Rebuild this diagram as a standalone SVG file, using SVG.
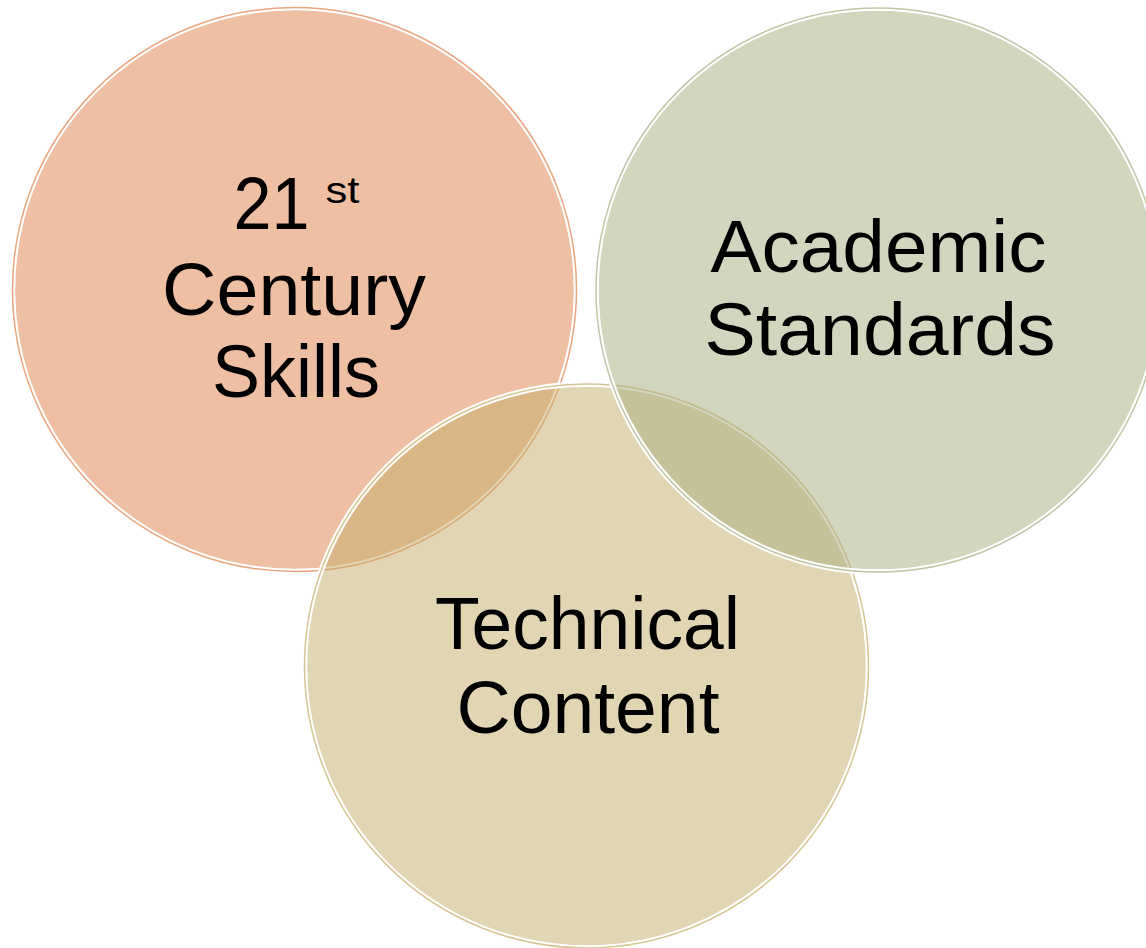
<svg xmlns="http://www.w3.org/2000/svg" width="1146" height="948" viewBox="0 0 1146 948">
<style>
.fill{stroke:none;fill-opacity:0.5}
.halo{fill:none;stroke:#ffffff;stroke-width:5.5}
.rim{fill:none;stroke-width:1.5;stroke-opacity:0.7}
.lbl{font-family:"Liberation Sans",Arial,sans-serif;font-size:75px;fill:#000000;text-anchor:middle}
.sup{font-size:36px}
</style>
<rect x="0" y="0" width="1146" height="948" fill="#ffffff"/>
<g id="node-21st-century-skills">
<circle class="fill" cx="294.5" cy="289.5" r="279.5" fill="#DF7F47"/>
<circle class="halo" cx="294.5" cy="289.5" r="282"/>
<circle class="rim" cx="294.5" cy="289.5" r="282" stroke="#DF7F47"/>
<text class="lbl"><tspan x="271.5" y="229" textLength="76" lengthAdjust="spacingAndGlyphs">21</tspan><tspan class="sup" x="342.5" y="203" textLength="34" lengthAdjust="spacingAndGlyphs">st</tspan></text>
<text class="lbl" x="294" y="315" textLength="264" lengthAdjust="spacingAndGlyphs">Century</text>
<text class="lbl" x="296" y="397" textLength="168" lengthAdjust="spacingAndGlyphs">Skills</text>
</g>
<g id="node-technical-content">
<circle class="fill" cx="586.5" cy="666" r="279.5" fill="#C5AB67"/>
<circle class="halo" cx="586.5" cy="666" r="282"/>
<circle class="rim" cx="586.5" cy="666" r="282" stroke="#C5AB67"/>
<text class="lbl" x="587.5" y="649" textLength="305" lengthAdjust="spacingAndGlyphs">Technical</text>
<text class="lbl" x="588" y="733" textLength="263" lengthAdjust="spacingAndGlyphs">Content</text>
</g>
<g id="node-academic-standards">
<circle class="fill" cx="878" cy="290" r="279.5" fill="#A7AD80"/>
<circle class="halo" cx="878" cy="290" r="282"/>
<circle class="rim" cx="878" cy="290" r="282" stroke="#A7AD80"/>
<text class="lbl" x="878.5" y="272" textLength="336" lengthAdjust="spacingAndGlyphs">Academic</text>
<text class="lbl" x="880" y="355" textLength="351" lengthAdjust="spacingAndGlyphs">Standards</text>
</g>
<g id="connectors"></g>
</svg>
